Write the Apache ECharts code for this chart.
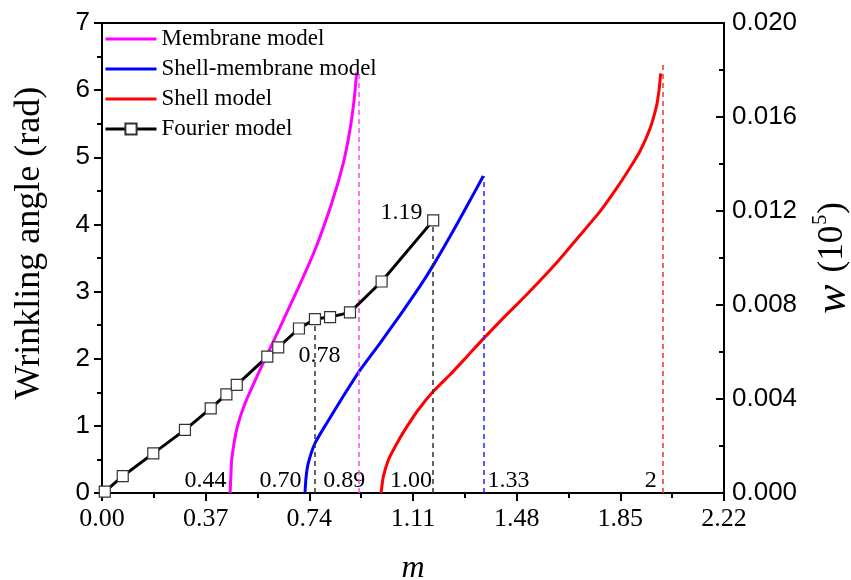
<!DOCTYPE html>
<html>
<head>
<meta charset="utf-8">
<script src="https://cdn.jsdelivr.net/npm/echarts@6/dist/echarts.min.js"></script>
<style>
  html, body { margin: 0; padding: 0; background: #fff; }
  #chart { width: 851px; height: 580px; }
</style>
</head>
<body>
<div id="chart"></div>
<script>
// membrane model (magenta)
const membraneX = [0.457, 0.460, 0.463, 0.481, 0.510, 0.558, 0.594, 0.641, 0.701, 0.760, 0.820, 0.861, 0.885, 0.900, 0.909];
const membraneY = [0, 0.25, 0.50, 0.95, 1.33, 1.78, 2.10, 2.52, 3.06, 3.62, 4.32, 4.91, 5.41, 5.86, 6.26];

// shell-membrane model (blue)
const shellMemX = [0.7245, 0.728, 0.736, 0.760, 0.802, 0.861, 0.921, 0.992, 1.064, 1.135, 1.182, 1.242, 1.302, 1.361];
const shellMemY = [0, 0.22, 0.44, 0.74, 1.04, 1.44, 1.83, 2.23, 2.65, 3.08, 3.39, 3.82, 4.27, 4.72];

// shell model (red)
const shellX = [0.996, 1.004, 1.022, 1.046, 1.081, 1.129, 1.182, 1.242, 1.302, 1.364, 1.438, 1.510, 1.563, 1.635, 1.706, 1.777, 1.837, 1.884, 1.920, 1.956, 1.980, 1.989, 1.994];
const shellY = [0, 0.24, 0.49, 0.69, 0.94, 1.24, 1.51, 1.76, 2.03, 2.31, 2.63, 2.93, 3.16, 3.49, 3.84, 4.19, 4.54, 4.84, 5.09, 5.43, 5.78, 6.03, 6.25];

// fourier model (black squares)
const fourierX = [0.01, 0.074, 0.183, 0.296, 0.388, 0.444, 0.481, 0.590, 0.629, 0.703, 0.760, 0.814, 0.885, 0.998, 1.182];
const fourierY = [0.02, 0.25, 0.59, 0.94, 1.26, 1.47, 1.61, 2.03, 2.17, 2.45, 2.59, 2.62, 2.69, 3.15, 4.06];

// dashed guide lines: x, top y
const guideMembrane = [0.915, 6.30];
const guideShellMem = [1.364, 4.72];
const guideShell = [2.003, 6.38];
const guideFourier = [[0.760, 2.59], [1.182, 4.05]];

// annotation texts and their anchors (data units)
const noteText = ['0.44', '0.70', '0.89', '1.00', '1.33', '2', '0.78', '1.19'];
const noteX = [0.369, 0.637, 0.865, 1.103, 1.451, 1.959, 0.776, 1.069];
const noteY = [0.19, 0.19, 0.19, 0.19, 0.19, 0.19, 2.04, 4.18];

const xTicks = { min: 0, max: 2.22, step: 0.37 };
const rightTicks = { min: 0, max: 0.02, step: 0.004 };

const zip = (xs, ys) => xs.map((x, i) => [x, ys[i]]);
const vline = (x, top) => [{ coord: [x, 0] }, { coord: [x, top] }];

const serif = 'Liberation Serif';
const sans = 'Liberation Sans';

const chart = echarts.init(document.getElementById('chart'), null, { renderer: 'canvas' });

const guideStyle = (color) => ({
  silent: true,
  symbol: 'none',
  label: { show: false },
  lineStyle: { color: color, type: [5, 4], width: 1.5 },
  emphasis: { disabled: true }
});

const curve = (name, xs, ys, color, guides, guideColor) => ({
  name: name, type: 'line', smooth: 0.2, symbol: 'none',
  data: zip(xs, ys),
  lineStyle: { color: color, width: 3 },
  itemStyle: { color: 'rgba(0,0,0,0)' },
  markLine: Object.assign({ data: guides.map(g => vline(g[0], g[1])) }, guideStyle(guideColor))
});

const option = {
  animation: false,
  grid: {
    left: 102, right: 127, top: 23, bottom: 87,
    outerBoundsMode: 'none',
    show: true, borderColor: '#000', borderWidth: 2
  },
  legend: {
    orient: 'vertical',
    left: 99, top: 22,
    itemWidth: 51, itemHeight: 14, itemGap: 6,
    lineStyle: { width: 3 },
    data: ['Membrane model', 'Shell-membrane model', 'Shell model', 'Fourier model'],
    textStyle: { fontFamily: serif, fontSize: 23, color: '#000', lineHeight: 24 }
  },
  xAxis: {
    type: 'value',
    min: xTicks.min, max: xTicks.max, interval: xTicks.step,
    name: 'm', nameLocation: 'middle', nameGap: 60,
    nameTextStyle: { fontFamily: serif, fontStyle: 'italic', fontSize: 32, color: '#000' },
    axisLine: { lineStyle: { color: '#000', width: 2 } },
    axisTick: { length: 8, lineStyle: { color: '#000', width: 2 } },
    minorTick: { show: true, splitNumber: 2, length: 5, lineStyle: { color: '#000', width: 2 } },
    axisLabel: { fontFamily: serif, fontSize: 26, color: '#000', margin: 13, formatter: v => v.toFixed(2) },
    splitLine: { show: false }
  },
  yAxis: [
    {
      type: 'value', min: 0, max: 7, interval: 1,
      name: 'Wrinkling angle (rad)', nameLocation: 'middle', nameGap: 54, nameRotate: 90,
      nameTextStyle: { fontFamily: serif, fontSize: 36, color: '#000', padding: [0, 0, 0, 30] },
      axisLine: { show: true, lineStyle: { color: '#000', width: 2 } },
      axisTick: { length: 8, lineStyle: { color: '#000', width: 2 } },
      minorTick: { show: true, splitNumber: 2, length: 5, lineStyle: { color: '#000', width: 2 } },
      axisLabel: { fontFamily: sans, fontSize: 26, color: '#000', margin: 12 },
      splitLine: { show: false }
    },
    {
      type: 'value', position: 'right',
      min: rightTicks.min, max: rightTicks.max, interval: rightTicks.step,
      name: '{w|w}{sp| }{p|(10}{s|5}{p|)}', nameLocation: 'middle', nameGap: 87, nameRotate: 90,
      nameTextStyle: {
        color: '#000',
        rich: {
          w: { fontFamily: serif, fontStyle: 'italic', fontSize: 44, color: '#000' },
          sp: { fontFamily: serif, fontSize: 30, width: 12 },
          p: { fontFamily: serif, fontSize: 35, color: '#000' },
          s: { fontFamily: serif, fontSize: 20, color: '#000', verticalAlign: 'top', padding: [0, 1, 22, 1] }
        }
      },
      axisLine: { show: true, lineStyle: { color: '#000', width: 2 } },
      axisTick: { inside: true, length: 8, lineStyle: { color: '#000', width: 2 } },
      minorTick: { show: true, splitNumber: 2, length: 5, lineStyle: { color: '#000', width: 2 } },
      axisLabel: { fontFamily: sans, fontSize: 26, color: '#000', margin: 8, formatter: v => v.toFixed(3) },
      splitLine: { show: false }
    }
  ],
  series: [
    curve('Membrane model', membraneX, membraneY, '#ff00ff', [guideMembrane], '#ff44ff'),
    curve('Shell-membrane model', shellMemX, shellMemY, '#0000ff', [guideShellMem], '#2222ff'),
    curve('Shell model', shellX, shellY, '#ff0000', [guideShell], '#ee3333'),
    {
      name: 'Fourier model', type: 'line', symbol: 'rect', symbolSize: 11,
      data: zip(fourierX, fourierY),
      lineStyle: { color: '#000', width: 3 },
      itemStyle: { color: '#fff', borderColor: '#333', borderWidth: 1.2 },
      z: 5,
      markLine: Object.assign({ data: guideFourier.map(g => vline(g[0], g[1])) }, guideStyle('#333'))
    },
    {
      name: 'notes', type: 'scatter', symbolSize: 0, silent: true,
      itemStyle: { color: '#000' },
      data: noteX.map((x, i) => [x, noteY[i], noteText[i]]),
      label: {
        show: true, position: [0, 0], align: 'center', verticalAlign: 'middle',
        fontFamily: serif, fontSize: 24, color: '#000', textBorderWidth: 0, opacity: 1,
        formatter: p => p.value[2]
      }
    }
  ]
};

chart.setOption(option);
</script>
</body>
</html>
